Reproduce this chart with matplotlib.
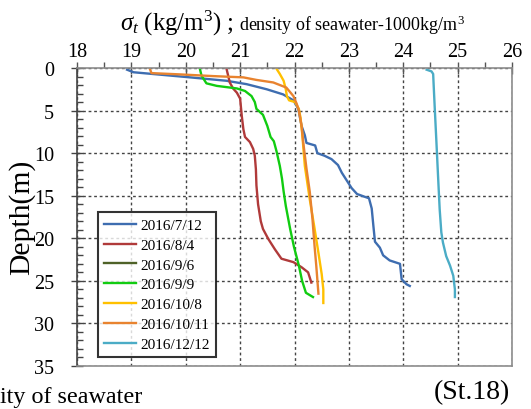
import matplotlib
matplotlib.use("Agg")
import matplotlib.pyplot as plt
from matplotlib.ticker import MultipleLocator

plt.rcParams['font.family'] = ['Liberation Serif', 'DejaVu Serif']
plt.rcParams['mathtext.fontset'] = 'custom'
plt.rcParams['mathtext.rm'] = 'Liberation Serif'
plt.rcParams['mathtext.it'] = 'Liberation Serif:italic'

# ---- data: sigma-t (kg/m3) vs depth (m) ----
labels = ["2016/7/12", "2016/8/4", "2016/9/6", "2016/9/9",
          "2016/10/8", "2016/10/11", "2016/12/12"]
colors = ["#3e6db0", "#b03a3a", "#4f6228", "#11cc11",
          "#ffc000", "#e8832f", "#4bacc6"]

sig_0712 = [18.92, 19.04, 20.08, 20.75, 21.12, 21.49, 21.79, 21.98, 22.07, 22.13,
            22.19, 22.22, 22.38, 22.42, 22.55, 22.68, 22.80, 22.87, 22.96, 23.05,
            23.15, 23.28, 23.37, 23.42, 23.45, 23.48, 23.57, 23.63, 23.75, 23.94,
            23.97, 24.06, 24.12]
dep_0712 = [0.2, 0.5, 1.1, 1.5, 1.9, 2.5, 3.1, 3.8, 4.8, 6.8,
            7.9, 8.8, 9.1, 10.0, 10.3, 10.7, 11.4, 12.3, 13.2, 14.1,
            14.8, 15.1, 15.3, 16.5, 18.5, 20.4, 21.1, 22.0, 22.6, 23.0,
            24.8, 25.4, 25.6]

sig_0804 = [20.75, 20.78, 20.81, 20.87, 20.94, 21.00, 21.03, 21.06, 21.09, 21.18,
            21.24, 21.27, 21.29, 21.30, 21.33, 21.38, 21.42, 21.52, 21.64, 21.76,
            21.98, 22.13, 22.25, 22.31]
dep_0804 = [0.1, 0.9, 1.7, 2.4, 2.9, 3.6, 5.6, 7.2, 8.1, 8.7,
            9.5, 10.3, 11.9, 13.8, 16.0, 18.0, 18.9, 20.1, 21.3, 22.4,
            22.8, 23.4, 24.0, 25.2]

sig_0906 = []
dep_0906 = []

sig_0909 = [20.26, 20.29, 20.38, 20.57, 20.94, 21.09, 21.21, 21.27, 21.30, 21.42,
            21.50, 21.56, 21.62, 21.67, 21.73, 21.77, 21.80, 21.84, 21.92, 21.99,
            22.08, 22.14, 22.21, 22.34]
dep_0909 = [0.1, 0.9, 1.8, 2.1, 2.4, 2.7, 3.3, 4.0, 4.8, 5.5,
            6.8, 8.1, 8.6, 9.8, 11.5, 13.0, 14.5, 16.2, 18.9, 21.0,
            23.2, 25.0, 26.4, 26.9]

sig_1008 = [21.67, 21.73, 21.80, 21.84, 21.86, 21.90, 22.01, 22.08, 22.11, 22.14,
            22.19, 22.28, 22.36, 22.44, 22.50, 22.53, 22.53]
dep_1008 = [0.1, 0.7, 1.5, 2.5, 3.3, 3.8, 4.0, 4.8, 5.8, 7.6,
            11.5, 15.4, 18.5, 21.7, 24.2, 26.0, 27.6]

sig_1011 = [19.34, 19.37, 19.89, 20.50, 21.06, 21.30, 21.61, 21.85, 21.98, 22.04,
            22.08, 22.13, 22.16, 22.22, 22.28, 22.33, 22.37, 22.40, 22.44]
dep_1011 = [0.1, 0.6, 0.75, 0.95, 1.1, 1.4, 1.7, 2.3, 3.3, 4.2,
            5.0, 6.8, 8.7, 11.8, 14.5, 17.7, 21.0, 23.2, 26.5]

sig_1212 = [24.43, 24.52, 24.55, 24.56, 24.58, 24.61, 24.64, 24.67, 24.70, 24.73,
            24.79, 24.86, 24.92, 24.95, 24.95]
dep_1212 = [0.2, 0.4, 0.7, 2.1, 4.8, 8.7, 12.7, 16.6, 19.3, 20.5,
            22.1, 23.2, 24.4, 26.0, 26.9]

series = [(sig_0712, dep_0712), (sig_0804, dep_0804), (sig_0906, dep_0906),
          (sig_0909, dep_0909), (sig_1008, dep_1008), (sig_1011, dep_1011),
          (sig_1212, dep_1212)]

x_ticks = [18, 19, 20, 21, 22, 23, 24, 25, 26]
y_ticks = [0, 5, 10, 15, 20, 25, 30, 35]

W, H = 531, 410
fig = plt.figure(figsize=(W / 100, H / 100), dpi=100)
ax = fig.add_axes([77 / W, 1 - 367 / H, (512 - 77) / W, (367 - 69) / H])

for (s, d), lab, c in zip(series, labels, colors):
    ax.plot(s, d, color=c, lw=1.7, label=lab, solid_joinstyle='round')

ax.set_xlim(18, 26)
ax.set_ylim(35, 0)
ax.set_xticks(x_ticks)
ax.set_yticks(y_ticks)
ax.xaxis.set_minor_locator(MultipleLocator(0.5))
ax.yaxis.set_minor_locator(MultipleLocator(1))
ax.xaxis.tick_top()
ax.tick_params(axis='x', which='major', direction='inout', length=8, width=1,
               color='#555555', labelsize=14.5, pad=1)
ax.tick_params(axis='x', which='minor', direction='out', length=4, width=1,
               color='#555555')
ax.tick_params(axis='y', which='major', direction='inout', length=9, width=1,
               color='#444444', labelsize=14.5, pad=12)
ax.tick_params(axis='y', which='minor', direction='in', length=4, width=1,
               color='#444444')

ax.grid(True, which='major', color='#444444', linestyle=(0, (2, 2)), linewidth=1.0)
for side in ['top', 'right', 'bottom']:
    ax.spines[side].set_color('#8c8c8c')
    ax.spines[side].set_linewidth(1.2)
ax.spines['left'].set_color('#444444')
ax.spines['left'].set_linewidth(1.2)

fig.text(22 / W, 1 - 217 / H, "Depth(m)", rotation=90, ha='center', va='center',
         fontsize=21.3)

leg = ax.legend(loc='lower left', bbox_to_anchor=(98 / W, 1 - 358 / H),
                bbox_transform=fig.transFigure, fontsize=11, frameon=True,
                fancybox=False, edgecolor='black', handlelength=2.1,
                handletextpad=0.25, labelspacing=0.4, borderpad=0.4,
                borderaxespad=0)
leg.get_frame().set_linewidth(1.5)

# title in two sizes
t1 = fig.text(120 / W, 1 - 31 / H, r"$\sigma_t$ (kg/m$^3$) ;", fontsize=17.8,
              ha='left', va='baseline')
fig.canvas.draw()
bb = t1.get_window_extent(renderer=fig.canvas.get_renderer())
fig.text((bb.x1 + 5) / W, 1 - 31 / H, r"density of seawater-1000kg/m$^3$",
         fontsize=13.0, ha='left', va='baseline')

fig.text(0 / W, 1 - 403 / H, "ity of seawater", fontsize=17.4, ha='left', va='baseline')
fig.text(510 / W, 1 - 399 / H, "(St.18)", fontsize=20, ha='right', va='baseline')

fig.savefig("out.png", dpi=100)
